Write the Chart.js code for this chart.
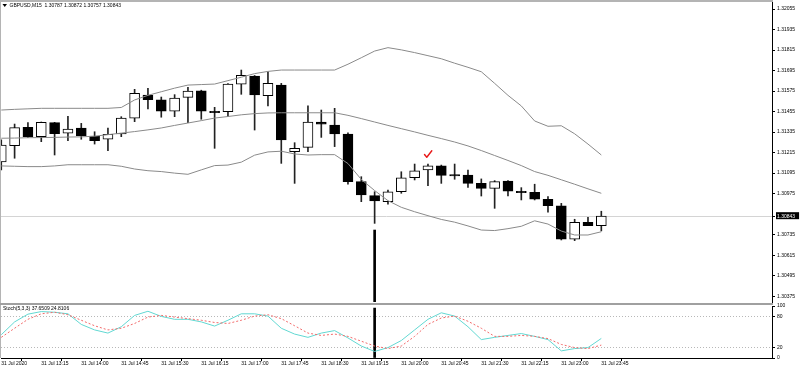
<!DOCTYPE html>
<html>
<head>
<meta charset="utf-8">
<title>GBPUSD,M15</title>
<script src="https://cdn.jsdelivr.net/npm/chart.js@4.4.0/dist/chart.umd.min.js"></script>
<style>
  html, body { margin: 0; padding: 0; background: #fff; }
  #wrap { position: relative; width: 800px; height: 369px; overflow: hidden; }
  #priceChart { position: absolute; left: 0; top: 0; }
  #stochChart { position: absolute; left: 0; top: 303px; }
</style>
</head>
<body>
<div id="wrap">
  <canvas id="priceChart" width="800" height="303"></canvas>
  <canvas id="stochChart" width="800" height="66"></canvas>
</div>
<script>
// M15 bars, 31 Jul 2020
var symbol = 'GBPUSD,M15';
var dayLabel = '31 Jul';
var firstTickLabel = '31 Jul 2020';
var times = ['12:30', '12:45', '13:00', '13:15', '13:30', '13:45', '14:00', '14:15', '14:30', '14:45',
    '15:00', '15:15', '15:30', '15:45', '16:00', '16:15', '16:30', '16:45', '17:00', '17:15',
    '17:30', '17:45', '18:00', '18:15', '18:30', '18:45', '19:00', '19:15', '19:30', '19:45',
    '20:00', '20:15', '20:30', '20:45', '21:00', '21:15', '21:30', '21:45', '22:00', '22:15',
    '22:30', '22:45', '23:00', '23:15', '23:30', '23:45'];

var open = [1.31160, 1.31255, 1.31363, 1.31308, 1.31390, 1.31328, 1.31359, 1.31312, 1.31293, 1.31324,
    1.31416, 1.31552, 1.31523, 1.31457, 1.31538, 1.31577, 1.31457, 1.31454, 1.31615, 1.31663,
    1.31548, 1.31610, 1.31220, 1.31246, 1.31394, 1.31376, 1.31324, 1.31045, 1.30963, 1.30928,
    1.30986, 1.31068, 1.31113, 1.31137, 1.31086, 1.31084, 1.31035, 1.31006, 1.31049, 1.30989,
    1.30983, 1.30942, 1.30903, 1.30708, 1.30807, 1.30787];
var high = [1.31289, 1.31382, 1.31390, 1.31394, 1.31392, 1.31427, 1.31386, 1.31337, 1.31359, 1.31425,
    1.31585, 1.31591, 1.31540, 1.31554, 1.31597, 1.31580, 1.31480, 1.31619, 1.31698, 1.31666,
    1.31688, 1.31620, 1.31273, 1.31488, 1.31464, 1.31474, 1.31331, 1.31074, 1.30986, 1.30996,
    1.31103, 1.31148, 1.31148, 1.31142, 1.31148, 1.31113, 1.31061, 1.31051, 1.31052, 1.31010,
    1.31030, 1.30957, 1.30918, 1.30825, 1.30837, 1.30872];
var low = [1.31113, 1.31182, 1.31302, 1.31279, 1.31201, 1.31285, 1.31293, 1.31265, 1.31226, 1.31308,
    1.31396, 1.31470, 1.31422, 1.31425, 1.31390, 1.31410, 1.31240, 1.31425, 1.31556, 1.31347,
    1.31488, 1.31152, 1.31035, 1.31220, 1.31304, 1.31250, 1.31030, 1.30928, 1.30801, 1.30914,
    1.30977, 1.31055, 1.31021, 1.31035, 1.31059, 1.31012, 1.30961, 1.30889, 1.30961, 1.30938,
    1.30938, 1.30866, 1.30704, 1.30700, 1.30787, 1.30757];
var close = [1.31259, 1.31361, 1.31308, 1.31392, 1.31326, 1.31353, 1.31312, 1.31285, 1.31322, 1.31417,
    1.31562, 1.31525, 1.31458, 1.31534, 1.31575, 1.31457, 1.31448, 1.31616, 1.31667, 1.31552,
    1.31620, 1.31289, 1.31240, 1.31394, 1.31381, 1.31324, 1.31045, 1.30967, 1.30932, 1.30986,
    1.31068, 1.31109, 1.31137, 1.31082, 1.31078, 1.31035, 1.31006, 1.31045, 1.30990, 1.30980,
    1.30942, 1.30904, 1.30708, 1.30807, 1.30787, 1.30843];

// Bollinger bands
var bbUpper = [1.31464, 1.31468, 1.31471, 1.31474, 1.31474, 1.31474, 1.31474, 1.31474, 1.31474, 1.31479,
    1.31523, 1.31550, 1.31571, 1.31592, 1.31610, 1.31613, 1.31616, 1.31636, 1.31656, 1.31677,
    1.31690, 1.31698, 1.31698, 1.31698, 1.31698, 1.31698, 1.31732, 1.31770, 1.31809, 1.31829,
    1.31816, 1.31800, 1.31782, 1.31764, 1.31738, 1.31714, 1.31688, 1.31620, 1.31550, 1.31488,
    1.31400, 1.31369, 1.31372, 1.31325, 1.31265, 1.31201];
var bbMiddle = [1.31299, 1.31300, 1.31302, 1.31303, 1.31304, 1.31306, 1.31307, 1.31311, 1.31320, 1.31329,
    1.31338, 1.31348, 1.31359, 1.31374, 1.31388, 1.31402, 1.31417, 1.31426, 1.31436, 1.31443,
    1.31447, 1.31448, 1.31448, 1.31448, 1.31448, 1.31448, 1.31433, 1.31414, 1.31394, 1.31374,
    1.31355, 1.31336, 1.31316, 1.31297, 1.31277, 1.31254, 1.31227, 1.31198, 1.31169, 1.31139,
    1.31104, 1.31082, 1.31056, 1.31030, 1.31003, 1.30977];
var bbLower = [1.31137, 1.31135, 1.31133, 1.31133, 1.31137, 1.31144, 1.31144, 1.31144, 1.31144, 1.31135,
    1.31119, 1.31109, 1.31104, 1.31095, 1.31088, 1.31114, 1.31139, 1.31142, 1.31159, 1.31200,
    1.31219, 1.31223, 1.31207, 1.31201, 1.31203, 1.31203, 1.31151, 1.31058, 1.30993, 1.30934,
    1.30895, 1.30869, 1.30846, 1.30824, 1.30808, 1.30786, 1.30762, 1.30759, 1.30770, 1.30784,
    1.30816, 1.30797, 1.30756, 1.30733, 1.30733, 1.30752];

// Stochastic (5,3,3)
var stochMain = [44.7, 69.4, 84.3, 89.3, 88, 85, 64.6, 54, 47.9, 60.1,
    81.9, 89.9, 80, 74.4, 74.4, 69.4, 61.4, 72.6, 85, 85,
    80.6, 57.2, 46, 39.7, 47.9, 52.7, 38.6, 23, 12.6, 20,
    33.6, 54, 74.4, 86.9, 80.6, 60.1, 35.4, 39.7, 43.4, 47,
    41.6, 35.4, 13.7, 18.1, 20, 37.6509];
var stochSignal = [39.7, 57.2, 74.4, 85, 88, 83.2, 72.6, 62, 54, 57.2,
    66.4, 78.7, 81.9, 78.7, 75.7, 72.6, 68.3, 66.4, 72.6, 80.6,
    83.2, 75.7, 62, 47.9, 43.4, 46, 41.6, 32.3, 23, 18.1,
    23, 41.6, 64.6, 76.9, 80.6, 70.7, 57.2, 41.6, 41.6, 43.4,
    41.6, 37.3, 26.1, 20, 18.1, 24.8106];

// axis ticks
var priceTicks = [1.30375, 1.30495, 1.30615, 1.30735, 1.30975, 1.31095, 1.31215,
    1.31335, 1.31455, 1.31575, 1.31695, 1.31815, 1.31935, 1.32055];
var stochTicks = [0, 20, 80, 100];
var stochLevels = [20, 80];
var timeTickStep = 3;

// objects on the chart
var markerIndex = 28;
var markerPrice = 1.30762;
var markerStoch = 96;
var checkIndex = 32;
var checkPrice = 1.31207;

// view ranges
var priceMin = 1.30341, priceMax = 1.32096;
var xMin = -0.02, xMax = 57.8;

var lastPrice = close[close.length - 1];
var tickFont = { family: '"Liberation Sans", Arial, sans-serif', size: 5 };
var textFont = '5px "Liberation Sans", Arial, sans-serif';
var frameColor = '#b4b4b4';
var bandColor = '#8a8a8a';

var timeTicks = [];
for (var t = 0; t < times.length; t += timeTickStep) {
    timeTicks.push(t);
}

function series(values) {
    return values.map(function (v, i) { return { x: i, y: v }; });
}

function fmt(v) {
    return v.toFixed(5);
}

// candle bodies and wicks as floating bars
var bodies = [], wicks = [], bodyColors = [];
for (var i = 0; i < times.length; i++) {
    bodies.push({ x: i, y: [open[i], close[i]] });
    wicks.push({ x: i, y: [low[i], high[i]] });
    bodyColors.push(close[i] >= open[i] ? '#ffffff' : '#000000');
}

// small red check sign used as a point style
function makeCheck() {
    var c = document.createElement('canvas');
    c.width = 10;
    c.height = 10;
    var g = c.getContext('2d');
    g.strokeStyle = '#e81818';
    g.lineWidth = 1.4;
    g.lineCap = 'round';
    g.lineJoin = 'round';
    g.beginPath();
    g.moveTo(1.5, 5.5);
    g.lineTo(3.8, 8.3);
    g.lineTo(8.8, 1.8);
    g.stroke();
    return c;
}

var hiddenGrid = 'rgba(0,0,0,0)';

var priceFrame = {
    id: 'priceFrame',
    afterDraw: function (chart) {
        var ctx = chart.ctx;
        var a = chart.chartArea;
        var n = close.length - 1;
        ctx.save();
        ctx.fillStyle = frameColor;
        ctx.fillRect(0, 0, a.right + 1, 2);
        ctx.fillRect(0, 0, 1, chart.height);
        ctx.fillStyle = '#000';
        ctx.beginPath();
        ctx.moveTo(2.5, 4);
        ctx.lineTo(7, 4);
        ctx.lineTo(4.75, 7);
        ctx.closePath();
        ctx.fill();
        ctx.font = textFont;
        ctx.textBaseline = 'middle';
        ctx.fillText(symbol + '  ' + [open[n], high[n], low[n], close[n]].map(fmt).join(' '), 9.5, 6);
        ctx.restore();
    }
};

var stochFrame = {
    id: 'stochFrame',
    afterDraw: function (chart) {
        var ctx = chart.ctx;
        var a = chart.chartArea;
        var n = stochMain.length - 1;
        ctx.save();
        ctx.fillStyle = '#a0a0a0';
        ctx.fillRect(0, 0, a.right + 1, 2);
        ctx.fillStyle = frameColor;
        ctx.fillRect(0, 2, 1, a.bottom - 2);
        ctx.fillStyle = '#000';
        ctx.font = textFont;
        ctx.textBaseline = 'middle';
        ctx.fillText('Stoch(5,3,3) ' + stochMain[n].toFixed(4) + ' ' + stochSignal[n].toFixed(4), 3, 5.7);
        ctx.restore();
    }
};

new Chart(document.getElementById('priceChart'), {
    type: 'bar',
    data: {
        datasets: [{
            type: 'line',
            label: 'check',
            data: [{ x: checkIndex, y: checkPrice }],
            showLine: false,
            pointStyle: makeCheck(),
            pointRadius: 5,
            order: -2
        }, {
            type: 'line',
            label: 'Bands upper',
            data: series(bbUpper),
            borderColor: bandColor,
            borderWidth: 1,
            pointRadius: 0,
            order: -1
        }, {
            type: 'line',
            label: 'Bands middle',
            data: series(bbMiddle),
            borderColor: bandColor,
            borderWidth: 1,
            pointRadius: 0,
            order: -1
        }, {
            type: 'line',
            label: 'Bands lower',
            data: series(bbLower),
            borderColor: bandColor,
            borderWidth: 1,
            pointRadius: 0,
            order: -1
        }, {
            label: 'bodies',
            data: bodies,
            backgroundColor: bodyColors,
            borderColor: '#000',
            borderWidth: 1,
            borderSkipped: false,
            barThickness: 10,
            grouped: false,
            clip: 0,
            order: 1
        }, {
            label: 'wicks',
            data: wicks,
            backgroundColor: '#222',
            barThickness: 1,
            grouped: false,
            clip: 0,
            order: 2
        }, {
            label: 'vline',
            data: [{ x: markerIndex, y: [priceMin, markerPrice] }],
            backgroundColor: '#000',
            barThickness: 2,
            grouped: false,
            clip: 0,
            order: 3
        }]
    },
    options: {
        responsive: false,
        animation: false,
        events: [],
        layout: { autoPadding: false, padding: { left: 1, top: 2, right: 0, bottom: 1 } },
        plugins: {
            legend: { display: false },
            tooltip: { enabled: false }
        },
        scales: {
            x: {
                type: 'linear',
                display: false,
                min: xMin,
                max: xMax,
                offset: false,
                afterBuildTicks: function (axis) {
                    axis.ticks = timeTicks.map(function (v) { return { value: v }; });
                }
            },
            y: {
                position: 'right',
                min: priceMin,
                max: priceMax,
                afterBuildTicks: function (axis) {
                    axis.ticks = priceTicks.concat([lastPrice]).map(function (v) { return { value: v }; });
                },
                afterFit: function (axis) {
                    axis.width = 28;
                    axis.paddingTop = 0;
                    axis.paddingBottom = 0;
                },
                ticks: {
                    autoSkip: false,
                    font: tickFont,
                    padding: 2,
                    color: function (c) {
                        return c.tick && c.tick.value === lastPrice ? '#ffffff' : '#000000';
                    },
                    showLabelBackdrop: function (c) {
                        return !!(c.tick && c.tick.value === lastPrice);
                    },
                    backdropColor: '#000',
                    backdropPadding: { top: 1, bottom: 0, left: 1, right: 4 },
                    callback: function (v) { return fmt(v); }
                },
                grid: {
                    color: function (c) {
                        return c.tick && c.tick.value === lastPrice ? '#d4d4d4' : hiddenGrid;
                    },
                    tickColor: '#000',
                    tickLength: 3
                },
                border: { display: true, color: '#000' }
            }
        }
    },
    plugins: [priceFrame]
});

new Chart(document.getElementById('stochChart'), {
    type: 'line',
    data: {
        datasets: [{
            label: 'Signal',
            data: series(stochSignal),
            borderColor: '#f26a6a',
            borderWidth: 1,
            borderDash: [2, 2],
            pointRadius: 0,
            order: 0
        }, {
            label: 'Main',
            data: series(stochMain),
            borderColor: '#62d8d2',
            borderWidth: 1,
            pointRadius: 0,
            order: 1
        }, {
            type: 'bar',
            label: 'vline',
            data: [{ x: markerIndex, y: [0, markerStoch] }],
            backgroundColor: '#000',
            barThickness: 2,
            grouped: false,
            clip: 0,
            order: 2
        }]
    },
    options: {
        responsive: false,
        animation: false,
        events: [],
        layout: { autoPadding: false, padding: { left: 1, top: 3, right: 0, bottom: 0 } },
        plugins: {
            legend: { display: false },
            tooltip: { enabled: false }
        },
        scales: {
            x: {
                type: 'linear',
                position: 'bottom',
                min: xMin,
                max: xMax,
                offset: false,
                afterBuildTicks: function (axis) {
                    axis.ticks = timeTicks.map(function (v) { return { value: v }; });
                },
                afterFit: function (axis) {
                    axis.height = 11;
                    axis.paddingLeft = 0;
                    axis.paddingRight = 0;
                },
                ticks: {
                    autoSkip: false,
                    maxRotation: 0,
                    align: 'start',
                    padding: 0,
                    font: tickFont,
                    color: '#000',
                    callback: function (v) {
                        return v === 0 ? firstTickLabel : dayLabel + ' ' + times[v];
                    }
                },
                grid: {
                    drawOnChartArea: false,
                    drawTicks: true,
                    tickLength: 3,
                    tickColor: '#000'
                },
                border: { display: true, color: '#000' }
            },
            y: {
                position: 'right',
                min: 0,
                max: 100,
                afterBuildTicks: function (axis) {
                    axis.ticks = stochTicks.map(function (v) { return { value: v }; });
                },
                afterFit: function (axis) {
                    axis.width = 28;
                    axis.paddingTop = 0;
                    axis.paddingBottom = 0;
                },
                ticks: {
                    autoSkip: false,
                    font: tickFont,
                    color: '#000',
                    padding: 2,
                    callback: function (v) { return String(v); }
                },
                grid: {
                    color: function (c) {
                        return c.tick && stochLevels.indexOf(c.tick.value) >= 0 ? '#b8b8b8' : hiddenGrid;
                    },
                    tickColor: '#000',
                    tickLength: 3
                },
                border: { display: true, color: '#000', dash: [1, 2] }
            }
        }
    },
    plugins: [stochFrame]
});
</script>
</body>
</html>
